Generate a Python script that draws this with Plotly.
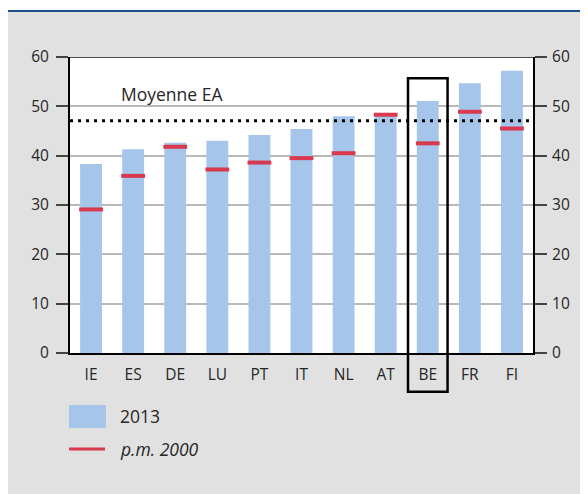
import plotly.graph_objects as go

# ---- data ----
countries = ["IE", "ES", "DE", "LU", "PT", "IT", "NL", "AT", "BE", "FR", "FI"]
values_2013 = [38.3, 41.3, 42.6, 43.0, 44.2, 45.4, 48.0, 48.6, 51.1, 54.7, 57.2]
values_2000 = [29.1, 35.9, 41.8, 37.2, 38.6, 39.5, 40.5, 48.3, 42.5, 48.9, 45.5]
ea_average = 47.1
avg_label = "Moyenne EA"
series_names = ["2013", "p.m. 2000"]
highlight = "BE"
y_ticks = [0, 10, 20, 30, 40, 50, 60]

# ---- styles ----
FONT = "Open Sans"
BAR_COLOR = "#a5c6ea"
RED = "#d9394f"
BG = "#e1e1e1"
TXT = "#262626"
OFF = 8  # page body margin
W, H = 580, 486
L, R, T, B = 70 - OFF, 533 - OFF, 57 - OFF, 353 - OFF  # plot area in figure pixels


def px(x):
    """screen x -> paper x"""
    return (x - OFF - L) / (R - L)


def py(y):
    """screen y -> paper y"""
    return (B - (y - OFF)) / (B - T)


fig = go.Figure()
fig.add_trace(go.Bar(x=countries, y=values_2013, name=series_names[0],
                     marker=dict(color=BAR_COLOR, line=dict(width=0)),
                     width=0.52, showlegend=False))
fig.add_trace(go.Scatter(x=countries, y=values_2000, name=series_names[1], mode="markers",
                         marker=dict(symbol="line-ew", size=17,
                                     line=dict(width=4, color=RED)),
                         showlegend=False))
# invisible trace for right axis
fig.add_trace(go.Scatter(x=countries, y=values_2013, yaxis="y2", mode="markers",
                         marker=dict(opacity=0), showlegend=False, hoverinfo="skip"))

ymax = y_ticks[-1]
hi = countries.index(highlight)

shapes = [
    # white strip above the top rule
    dict(type="rect", xref="paper", yref="paper", x0=px(0), x1=px(600), y0=py(10), y1=py(0),
         fillcolor="white", line=dict(width=0), layer="below"),
    # blue top rule
    dict(type="line", xref="paper", yref="paper", x0=px(0), x1=px(600), y0=py(11), y1=py(11),
         line=dict(color="#1d4f91", width=2)),
    # top border at 60
    dict(type="line", xref="paper", yref="y", x0=0, x1=1, y0=ymax, y1=ymax,
         line=dict(color="#4d4d4d", width=2)),
    # EA average dotted line
    dict(type="line", xref="paper", yref="y", x0=0, x1=1, y0=ea_average, y1=ea_average,
         line=dict(color="black", width=3, dash="3px,5px")),
    # highlight box around BE
    dict(type="rect", xref="x", yref="paper", x0=hi - 0.47, x1=hi + 0.47,
         y0=-7.85 / ymax, y1=55.7 / ymax, line=dict(color="black", width=2.5),
         fillcolor="rgba(0,0,0,0)"),
    # legend symbols
    dict(type="rect", xref="paper", yref="paper", x0=px(69), x1=px(106), y0=py(428), y1=py(405),
         fillcolor=BAR_COLOR, line=dict(width=0)),
    dict(type="line", xref="paper", yref="paper", x0=px(69), x1=px(105), y0=py(449), y1=py(449),
         line=dict(color=RED, width=3)),
]

annotations = [
    dict(text=avg_label, xref="paper", yref="y", x=px(119), y=52.5, xanchor="left",
         yanchor="middle", showarrow=False, font=dict(family=FONT, size=17.5, color=TXT)),
    dict(text=series_names[0], xref="paper", yref="paper", x=px(118), y=py(416), xanchor="left",
         yanchor="middle", showarrow=False, font=dict(family=FONT, size=17.5, color=TXT)),
    dict(text="<i>" + series_names[1] + "</i>", xref="paper", yref="paper", x=px(118), y=py(449),
         xanchor="left", yanchor="middle", showarrow=False,
         font=dict(family=FONT, size=17.5, color=TXT)),
]

yaxis_common = dict(range=[0, ymax], tickvals=y_ticks, ticks="outside", ticklen=12,
                    tickwidth=2, tickcolor="#444", showline=True, linecolor="black",
                    linewidth=2, zeroline=False, fixedrange=True,
                    tickfont=dict(family=FONT, size=15.5, color=TXT))

fig.update_layout(
    width=W, height=H,
    margin=dict(l=L, r=W - R, t=T, b=H - B, pad=0),
    paper_bgcolor=BG, plot_bgcolor="white",
    font=dict(family=FONT, color=TXT),
    xaxis=dict(type="category", range=[-0.5, len(countries) - 0.5], showline=True,
               linecolor="black", linewidth=2, ticks="", showgrid=False, fixedrange=True,
               tickfont=dict(family=FONT, size=15.5, color=TXT), ticklabelstandoff=6),
    yaxis=dict(**yaxis_common, side="left", showgrid=True, gridcolor="#b8b8b8", gridwidth=1.5,
               ticklabelstandoff=4),
    yaxis2=dict(**yaxis_common, side="right", overlaying="y", showgrid=False,
                ticklabelstandoff=2),
    shapes=shapes,
    annotations=annotations,
    showlegend=False,
)

fig.write_html("out.html")
